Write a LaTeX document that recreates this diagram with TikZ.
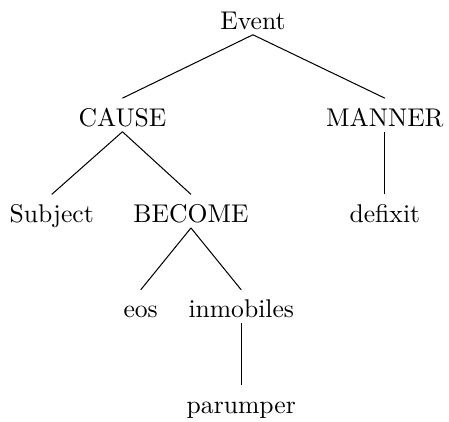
\documentclass[tikz,border=0pt]{standalone}
\usepackage{tikz}

\begin{document}
\begin{tikzpicture}[lab/.style={anchor=base,inner ysep=2pt,text height=8.7pt,text depth=0pt}]
  \useasboundingbox (-3.47,0.40) rectangle (2.69,-5.38);
  \node[lab] (event) at (0,0) {Event};
  \node[lab] (cause) at (-1.79,-1.33) {CAUSE};
  \node[lab] (manner) at (1.81,-1.33) {MANNER};
  \node[lab] (subj) at (-2.76,-2.65) {Subject};
  \node[lab] (become) at (-0.85,-2.65) {BECOME};
  \node[lab] (defixit) at (1.81,-2.65) {defixit};
  \node[lab] (eos) at (-1.54,-3.96) {eos};
  \node[lab] (inmob) at (-0.16,-3.96) {inmobiles};
  \node[lab] (parum) at (-0.16,-5.27) {parumper};
  \draw (event.south) -- (cause.north);
  \draw (event.south) -- (manner.north);
  \draw (cause.south) -- (subj.north);
  \draw (cause.south) -- (become.north);
  \draw (manner.south) -- (defixit.north);
  \draw (become.south) -- (eos.north);
  \draw (become.south) -- (inmob.north);
  \draw (inmob.south) -- (parum.north);
\end{tikzpicture}
\end{document}
